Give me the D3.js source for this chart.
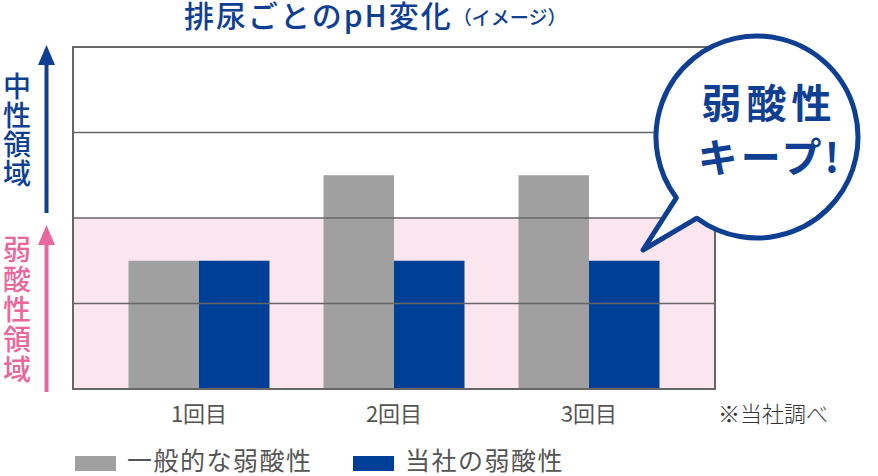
<!DOCTYPE html>
<meta charset="utf-8">
<style>
body { margin: 0; background: #fff; }
svg { display: block; font-family: "Noto Sans CJK JP", "Noto Sans", sans-serif; }
.grid line { stroke: #666; stroke-width: 1.6; }
.frame { fill: none; stroke: #666; stroke-width: 2; }
.vlabel { writing-mode: vertical-rl; text-orientation: upright; }
</style>
<svg width="878" height="476"></svg>
<script src="https://d3js.org/d3.v7.min.js"></script>
<script>

var categories = ["1回目", "2回目", "3回目"];
var seriesNames = ["一般的な弱酸性", "当社の弱酸性"];
var generalValues = [1.5, 2.5, 2.5];
var ourValues = [1.5, 1.5, 1.5];
var gridTicks = [1, 2, 3];
var acidBand = [0, 2];
var colors = ["#9fa09f", "#003f98"];

var svg = d3.select("svg");
var plotL = 73, plotR = 715, plotT = 47, plotB = 389;

var x = d3.scaleBand().domain(categories).range([plotL, plotR])
    .paddingInner(0.277).paddingOuter(0.2846);
var x1 = d3.scaleBand().domain(seriesNames).range([0, x.bandwidth()]);
var y = d3.scaleLinear().domain([0, 4]).range([plotB, plotT]);

// pink acid zone
svg.append("rect")
    .attr("x", plotL).attr("width", plotR - plotL)
    .attr("y", y(acidBand[1])).attr("height", y(acidBand[0]) - y(acidBand[1]))
    .attr("fill", "#fbe6ef");

// bars
var rows = categories.map(function(c, i) { return { cat: c, vals: [generalValues[i], ourValues[i]] }; });
var g = svg.append("g").selectAll("g").data(rows).enter().append("g")
    .attr("transform", function(d) { return "translate(" + x(d.cat) + ",0)"; });
g.selectAll("rect").data(function(d) { return d.vals; }).enter().append("rect")
    .attr("x", function(d, i) { return x1(seriesNames[i]); })
    .attr("width", x1.bandwidth())
    .attr("y", function(d) { return y(d); })
    .attr("height", function(d) { return y(0) - y(d); })
    .attr("fill", function(d, i) { return colors[i]; });

// gridlines over bars
svg.append("g").attr("class", "grid").selectAll("line").data(gridTicks).enter().append("line")
    .attr("x1", plotL).attr("x2", plotR)
    .attr("y1", function(d) { return y(d); }).attr("y2", function(d) { return y(d); });
svg.append("rect").attr("class", "frame")
    .attr("x", plotL).attr("y", plotT).attr("width", plotR - plotL).attr("height", plotB - plotT);

// category labels
svg.append("g").selectAll("text").data(categories).enter().append("text")
    .attr("x", function(d) { return x(d) + x.bandwidth() / 2; })
    .attr("y", 422)
    .attr("text-anchor", "middle")
    .attr("font-size", 22).attr("fill", "#555")
    .text(function(d) { return d; });

svg.append("text").attr("x", 718).attr("y", 422)
    .attr("font-size", 22).attr("fill", "#333").attr("font-weight", 300)
    .text("※当社調べ");

// title
var title = svg.append("text").attr("x", 184).attr("y", 27)
    .attr("font-size", 30).attr("font-weight", 500).attr("fill", "#0f3f92")
    .attr("letter-spacing", 2);
title.append("tspan").text("排尿ごとのpH変化");
title.append("tspan").attr("font-size", 19).attr("letter-spacing", 0).attr("dy", -2).text("（イメージ）");

// side labels + arrows
function vertical(chars, cx, y0, spacing, color) {
  svg.append("text").attr("class", "vlabel")
      .attr("x", cx).attr("y", y0)
      .attr("font-size", 28).attr("font-weight", 500)
      .attr("letter-spacing", spacing)
      .attr("fill", color).text(chars);
}
vertical("中性領域", 17, 72, 1, "#0f3f92");
vertical("弱酸性領域", 17, 235, 2, "#e9679c");

function arrow(cx, tip, end, color) {
  svg.append("line").attr("x1", cx).attr("x2", cx).attr("y1", tip + 15).attr("y2", end)
      .attr("stroke", color).attr("stroke-width", 4);
  svg.append("path")
      .attr("d", "M" + cx + "," + tip + "L" + (cx + 8.5) + "," + (tip + 20) + "L" + (cx - 8.5) + "," + (tip + 20) + "Z")
      .attr("fill", color);
}
arrow(46.5, 45, 213, "#0f3f92");
arrow(46.5, 225, 392, "#e9679c");

// speech bubble
var bc = [757, 137], br = 101;
var a0 = 143 * Math.PI / 180, a1 = (126.5 + 360) * Math.PI / 180;
var p = d3.path();
p.moveTo(bc[0] + br * Math.cos(a0), bc[1] + br * Math.sin(a0));
p.arc(bc[0], bc[1], br, a0, a1, false);
p.lineTo(643, 250);
p.closePath();
svg.append("path").attr("d", p.toString())
    .attr("fill", "#fff").attr("stroke", "#0f3f92").attr("stroke-width", 5)
    .attr("stroke-linejoin", "round");
svg.append("text").attr("x", 769).attr("y", 118).attr("text-anchor", "middle")
    .attr("font-size", 40).attr("font-weight", 700).attr("fill", "#0f3f92")
    .attr("letter-spacing", 5).text("弱酸性");
svg.append("text").attr("x", 770).attr("y", 172).attr("text-anchor", "middle")
    .attr("font-size", 40).attr("font-weight", 700).attr("fill", "#0f3f92")
    .attr("letter-spacing", 3).text("キープ!");

// legend
var leg = svg.append("g").selectAll("g").data(seriesNames).enter().append("g")
    .attr("transform", function(d, i) { return "translate(" + [75, 353][i] + ",0)"; });
leg.append("rect").attr("y", 456).attr("width", 41).attr("height", 15)
    .attr("fill", function(d, i) { return colors[i]; });
leg.append("text").attr("x", 52).attr("y", 470)
    .attr("font-size", 25).attr("fill", "#555").attr("letter-spacing", 1.5)
    .text(function(d) { return d; });

</script>
